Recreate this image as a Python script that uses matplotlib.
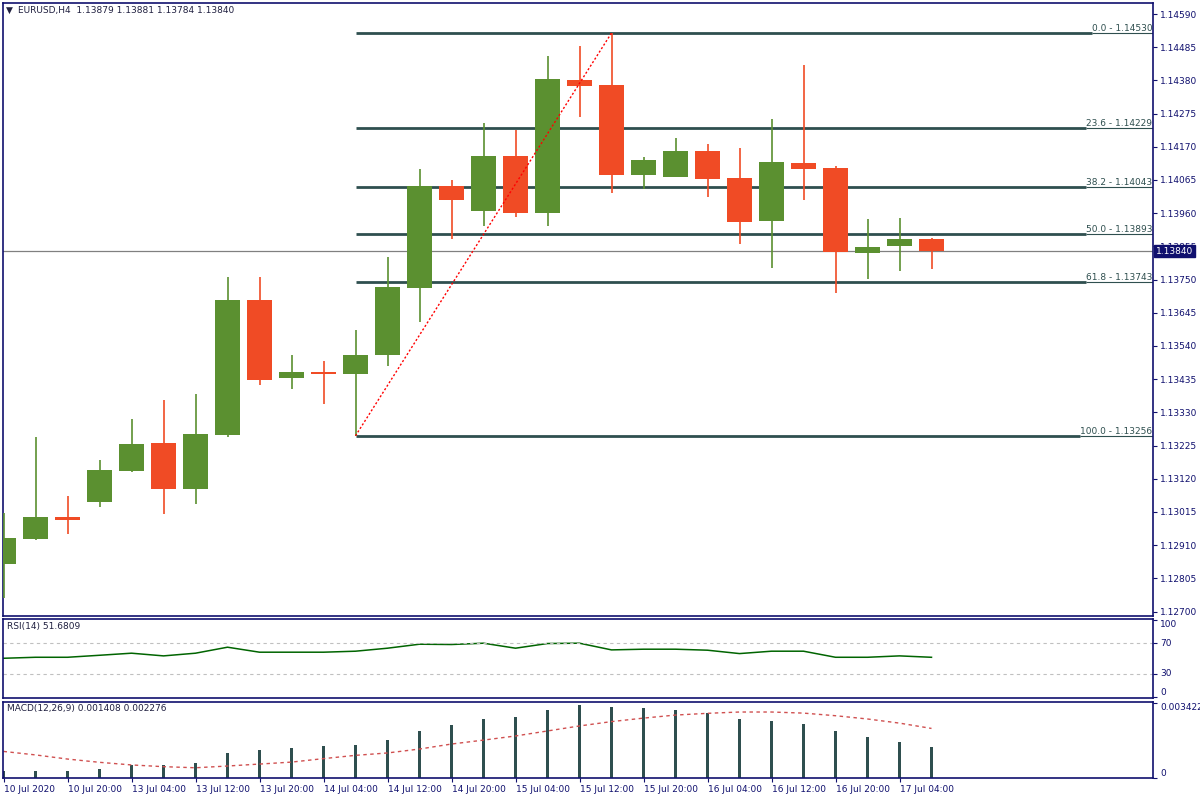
import matplotlib
matplotlib.use('Agg')
import matplotlib.pyplot as plt
import matplotlib.transforms as mtransforms
import numpy as np

# EURUSD H4 candles
opens = [1.12851, 1.12930, 1.12999, 1.13047, 1.13145, 1.13233, 1.13088, 1.13259, 1.13685, 1.13439,
         1.13458, 1.13451, 1.13512, 1.13724, 1.14046, 1.13967, 1.14141, 1.13961, 1.14381, 1.14365,
         1.14081, 1.14074, 1.14157, 1.14071, 1.13935, 1.14119, 1.14103, 1.13834, 1.13856, 1.13879]
highs = [1.13012, 1.13252, 1.13066, 1.13179, 1.13309, 1.13369, 1.13388, 1.13758, 1.13758, 1.13512,
         1.13493, 1.13591, 1.13821, 1.14100, 1.14065, 1.14245, 1.14223, 1.14457, 1.14489, 1.14530,
         1.14138, 1.14198, 1.14179, 1.14166, 1.14258, 1.14429, 1.14109, 1.13942, 1.13945, 1.13881]
lows = [1.12743, 1.12928, 1.12945, 1.13031, 1.13142, 1.13009, 1.13040, 1.13252, 1.13417, 1.13404,
        1.13357, 1.13256, 1.13477, 1.13616, 1.13878, 1.13920, 1.13948, 1.13920, 1.14264, 1.14024,
        1.14037, 1.14074, 1.14011, 1.13863, 1.13787, 1.14002, 1.13708, 1.13752, 1.13777, 1.13784]
closes = [1.12933, 1.12999, 1.12990, 1.13148, 1.13230, 1.13088, 1.13262, 1.13685, 1.13432, 1.13458,
          1.13451, 1.13512, 1.13727, 1.14046, 1.14002, 1.14141, 1.13961, 1.14384, 1.14362, 1.14081,
          1.14128, 1.14157, 1.14068, 1.13932, 1.14122, 1.14100, 1.13837, 1.13853, 1.13879, 1.13840]

rsi = [50.4, 51.7, 51.7, 54.3, 57.0, 53.5, 57.0, 64.8, 58.3, 58.3,
       58.3, 59.6, 63.5, 68.7, 68.3, 70.0, 63.5, 69.6, 70.0, 61.3,
       62.2, 62.2, 60.9, 56.5, 59.6, 59.6, 51.7, 51.7, 53.5, 51.68]

macd_main = [0.00034, 0.00034, 0.00034, 0.00043, 0.00060, 0.00061, 0.00070, 0.00116, 0.00130, 0.00139,
             0.00148, 0.00153, 0.00176, 0.00217, 0.00245, 0.00272, 0.00282, 0.00314, 0.00337, 0.00327,
             0.00323, 0.00314, 0.00298, 0.00272, 0.00263, 0.00249, 0.00217, 0.00190, 0.00167, 0.001408]
macd_signal = [0.00122, 0.00106, 0.00087, 0.00072, 0.00060, 0.00052, 0.00047, 0.00055, 0.00064, 0.00073,
               0.00089, 0.00104, 0.00115, 0.00133, 0.00156, 0.00174, 0.00193, 0.00216, 0.00239, 0.00259,
               0.00275, 0.00289, 0.00297, 0.00303, 0.00303, 0.00298, 0.00286, 0.00271, 0.00252, 0.002276]

time_labels = ['10 Jul 2020', '10 Jul 20:00', '13 Jul 04:00', '13 Jul 12:00', '13 Jul 20:00',
               '14 Jul 04:00', '14 Jul 12:00', '14 Jul 20:00', '15 Jul 04:00', '15 Jul 12:00',
               '15 Jul 20:00', '16 Jul 04:00', '16 Jul 12:00', '16 Jul 20:00', '17 Jul 04:00']

fib_levels = [0.0, 23.6, 38.2, 50.0, 61.8, 100.0]
fib_prices = [1.14530, 1.14229, 1.14043, 1.13893, 1.13743, 1.13256]
fib_start, fib_end = 11, 19
last_price = 1.13840

GREEN = '#5b9030'
RED = '#f04b25'
NAVY = '#10106e'
SLATE = '#2f4f4f'
FS = 6.5

plt.rcParams['font.family'] = ['DejaVu Sans']
fig = plt.figure(figsize=(12, 8), dpi=100)
W, H = 1200.0, 800.0
left, right = 3, 1153


def panel(top, bottom):
    return fig.add_axes([left / W, 1 - bottom / H, (right - left) / W, (bottom - top) / H])


ax = panel(3, 616)
ax_rsi = panel(619, 698)
ax_macd = panel(702, 778)

x = np.arange(len(opens))
xlim = (-0.016, (right - 3.5) / 32.0)

# ---- main price chart
o = np.array(opens); c = np.array(closes)
colors = [GREEN if cc >= oo else RED for oo, cc in zip(o, c)]
ax.axhline(last_price, color='#808080', lw=0.9, zorder=1)
ax.vlines(x, lows, highs, colors=colors, lw=1.2, zorder=3)
ax.bar(x, c - o, bottom=o, width=0.78, color=colors, linewidth=0, zorder=4)
ax.plot([fib_start, fib_end], [fib_prices[-1], fib_prices[0]], color='red', lw=1,
        linestyle=(0, (1.5, 1.5)), zorder=5)

ax.set_xlim(*xlim)
ax.set_ylim(1.14590 - 602 / 31619.0, 1.14590 + 11 / 31619.0)
price_ticks = [1.12700 + 0.00105 * k for k in range(19)]
ax.yaxis.tick_right()
ax.set_yticks(price_ticks)
ax.set_yticklabels(['%.5f' % p for p in price_ticks])
ax.set_xticks([])

blend = mtransforms.blended_transform_factory(ax.transAxes, ax.transData)
fib_texts = []
for lvl, p in zip(fib_levels, fib_prices):
    t = ax.text(0.9995, p, '%.1f - %.5f' % (lvl, p), transform=blend, ha='right', va='bottom',
                fontsize=FS, color=SLATE, zorder=6)
    fib_texts.append(t)

ax.text(1.0025, last_price, '%.5f' % last_price, transform=blend, ha='left', va='center',
        fontsize=FS, color='white', zorder=10, clip_on=False,
        bbox=dict(boxstyle='square,pad=0.2', facecolor=NAVY, edgecolor=NAVY))

# ---- RSI
ax_rsi.plot(x, rsi, color='#006400', lw=1.1)
for lv in (70, 30):
    ax_rsi.axhline(lv, color='#c0c0c0', lw=0.8, linestyle=(0, (3, 3)))
ax_rsi.set_xlim(*xlim)
ax_rsi.set_ylim(-1.3, 101.5)
ax_rsi.yaxis.tick_right()
ax_rsi.set_yticks([0, 30, 70, 100])
ax_rsi.set_yticklabels(['0', '30', '70', '100'])
for lab, va in zip(ax_rsi.get_yticklabels(), ['bottom', 'center', 'center', 'top']):
    lab.set_va(va)
ax_rsi.set_xticks([])

# ---- MACD
ax_macd.bar(x, macd_main, width=0.075, color=SLATE, linewidth=0)
ax_macd.plot(x, macd_signal, color='#d05050', lw=1, linestyle=(0, (2.5, 2.5)))
ax_macd.set_xlim(*xlim)
ax_macd.set_ylim(0, 0.00349)
ax_macd.yaxis.tick_right()
ax_macd.set_yticks([0, 0.003422])
ax_macd.set_yticklabels(['0', '0.003422'])
for lab, va in zip(ax_macd.get_yticklabels(), ['bottom', 'top']):
    lab.set_va(va)
ax_macd.set_xticks(np.arange(0, len(opens), 2))
ax_macd.set_xticklabels(time_labels)
shift = mtransforms.ScaledTranslation(2 / 72.0, 0, fig.dpi_scale_trans)
for lab in ax_macd.get_xticklabels():
    lab.set_ha('left')
    lab.set_transform(lab.get_transform() + shift)

for a in (ax, ax_rsi, ax_macd):
    for s in a.spines.values():
        s.set_color(NAVY)
        s.set_linewidth(1.2)
    a.tick_params(axis='both', colors=NAVY, labelcolor=NAVY, labelsize=FS,
                  direction='out', length=3, width=0.8, pad=2)
    a.set_facecolor('white')

# header and indicator names
fig.text(6 / W, 1 - 10 / H, '\u25bc', fontsize=6.5, color='#202040', va='center', ha='left')
fig.text(18 / W, 1 - 10 / H, 'EURUSD,H4  1.13879 1.13881 1.13784 1.13840', fontsize=FS,
         color='#202040', va='center', ha='left')
fig.text(7 / W, 1 - 627 / H, 'RSI(14) 51.6809', fontsize=FS, color='#202040', va='center')
fig.text(7 / W, 1 - 709 / H, 'MACD(12,26,9) 0.001408 0.002276', fontsize=FS, color='#202040', va='center')

# fib level lines: thick until the label, thin under the label
fig.canvas.draw()
renderer = fig.canvas.get_renderer()
inv = ax.transData.inverted()
for t, p in zip(fib_texts, fib_prices):
    bb = t.get_window_extent(renderer)
    x_text = inv.transform((bb.x0, 0))[0]
    ax.hlines(p, fib_start, x_text, color=SLATE, lw=2, zorder=2)
    ax.hlines(p, x_text, xlim[1], color=SLATE, lw=0.8, zorder=2)

fig.savefig('out.png', dpi=100, facecolor='white')
